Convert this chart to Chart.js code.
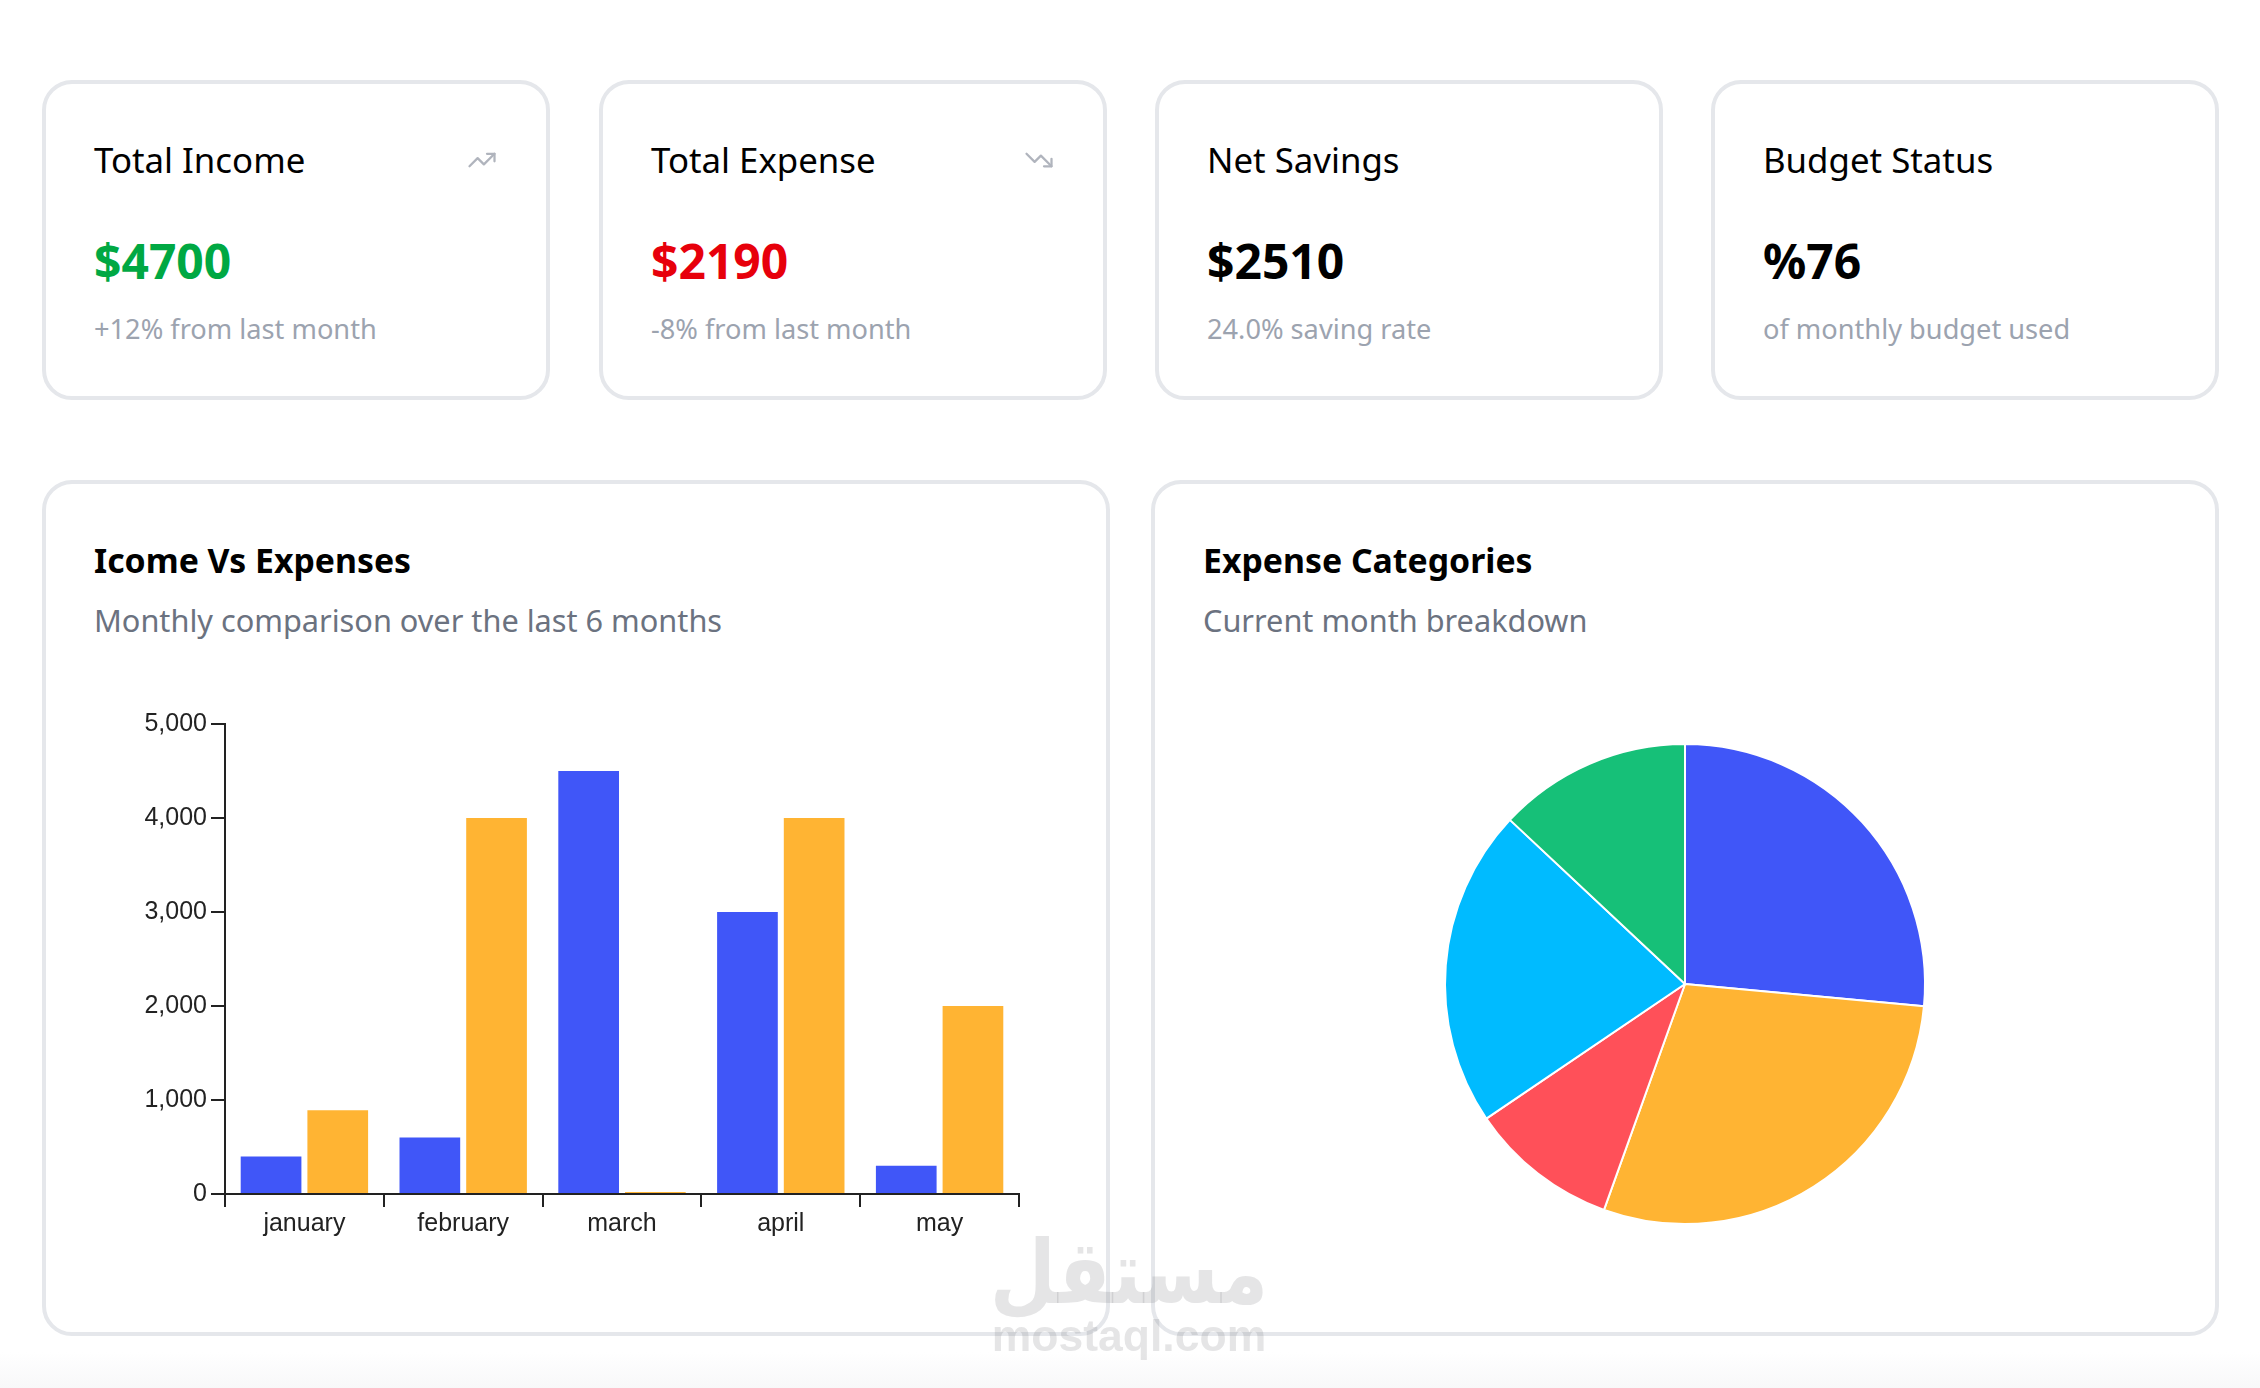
<!DOCTYPE html>
<html>
<head>
<meta charset="utf-8">
<title>Dashboard</title>
<script src="https://cdn.jsdelivr.net/npm/chart.js@4"></script>
<style>
  html, body { margin: 0; padding: 0; background: #fff; }
  body { position: relative; width: 2260px; height: 1388px; overflow: hidden; font-family: "Noto Sans", sans-serif; }
  .fade { position: absolute; left: 0; right: 0; top: 1352px; height: 36px; background: linear-gradient(#fff, #f8f8f9); }
  .card { position: absolute; box-sizing: border-box; background: #fff; border: 4px solid #e5e7eb; border-radius: 30px; }
  .stat { top: 80px; width: 508px; height: 320px; }
  .big { top: 480px; height: 856px; }
  .txt { position: absolute; white-space: nowrap; line-height: 1; }
  .label { left: 48px; top: 59px; font-size: 34.8px; color: #000; }
  .value { left: 48px; top: 153px; font-size: 48px; font-weight: 700; color: #000; }
  .note { left: 48px; top: 231px; font-size: 27.2px; color: #9ca3af; }
  .head { left: 48px; top: 60px; font-size: 33.8px; font-weight: 700; color: #000; }
  .desc { left: 48px; top: 121px; font-size: 30.7px; color: #6b7280; }
  .icon { position: absolute; right: 49px; top: 61px; width: 30px; height: 30px; fill: none; stroke: #b0b4bd; stroke-width: 1.8; stroke-linecap: round; stroke-linejoin: round; }
  #barBox { position: absolute; left: 120px; top: 701px; width: 920px; height: 560px; }
  #pieBox { position: absolute; left: 1435px; top: 734px; width: 500px; height: 500px; }
  .mark { position: absolute; color: rgba(110,110,115,.18); white-space: nowrap; line-height: 1; text-align: center; width: 500px; left: 879px; }
  .mark.ar { top: 1204px; font-family: "DejaVu Sans", sans-serif; font-weight: 700; font-size: 112px; transform: scale(.68, .79); transform-origin: 50% 100%; }
  .mark.en { top: 1314px; font-family: "Liberation Sans", sans-serif; font-weight: 700; font-size: 44.5px; }
</style>
</head>
<body>
<div class="fade"></div>

<div class="card stat" style="left:42px">
  <div class="txt label">Total Income</div>
  <svg class="icon" viewBox="0 0 24 24"><polyline points="22 7 13.5 15.5 8.5 10.5 2 17"/><polyline points="16 7 22 7 22 13"/></svg>
  <div class="txt value" style="color:#00a843">$4700</div>
  <div class="txt note">+12% from last month</div>
</div>
<div class="card stat" style="left:599px">
  <div class="txt label">Total Expense</div>
  <svg class="icon" viewBox="0 0 24 24"><polyline points="22 17 13.5 8.5 8.5 13.5 2 7"/><polyline points="16 17 22 17 22 11"/></svg>
  <div class="txt value" style="color:#e7000b">$2190</div>
  <div class="txt note">-8% from last month</div>
</div>
<div class="card stat" style="left:1155px">
  <div class="txt label">Net Savings</div>
  <div class="txt value">$2510</div>
  <div class="txt note">24.0% saving rate</div>
</div>
<div class="card stat" style="left:1711px">
  <div class="txt label">Budget Status</div>
  <div class="txt value">%76</div>
  <div class="txt note">of monthly budget used</div>
</div>

<div class="card big" style="left:42px;width:1068px">
  <div class="txt head">Icome Vs Expenses</div>
  <div class="txt desc">Monthly comparison over the last 6 months</div>
</div>
<div class="card big" style="left:1151px;width:1068px">
  <div class="txt head">Expense Categories</div>
  <div class="txt desc">Current month breakdown</div>
</div>

<div id="barBox"><canvas id="barChart"></canvas></div>
<div id="pieBox"><canvas id="pieChart"></canvas></div>

<div class="mark ar" dir="rtl">مستقل</div>
<div class="mark en">mostaql.com</div>

<script>
// --- DATA ---
const months = ['january', 'february', 'march', 'april', 'may'];
const incomeValues = [400, 600, 4500, 3000, 300];
const expenseValues = [890, 4000, 20, 4000, 2000];
const yTicks = [0, 1000, 2000, 3000, 4000, 5000];

const pieCategories = ['Blue', 'Orange', 'Red', 'Cyan', 'Green'];
const pieValues = [580, 635, 220, 470, 285];
const pieColors = ['#4056f8', '#ffb433', '#ff5059', '#00bbff', '#16c078'];

const axisColor = '#222';
const tickFont = { family: '"Liberation Sans", sans-serif', size: 25 };

// --- BAR CHART ---
new Chart(document.getElementById('barChart'), {
    type: 'bar',
    data: {
        labels: months,
        datasets: [
            { label: 'income', data: incomeValues, backgroundColor: '#4056f8' },
            { label: 'expense', data: expenseValues, backgroundColor: '#ffb433' }
        ]
    },
    options: {
        responsive: true,
        maintainAspectRatio: false,
        animation: false,
        categoryPercentage: 0.84,
        barPercentage: 0.91,
        layout: { padding: { top: 23, right: 21, left: 0, bottom: 0 } },
        plugins: { legend: { display: false }, tooltip: { enabled: false } },
        scales: {
            x: {
                z: 1,
                grid: { drawOnChartArea: false, color: axisColor, lineWidth: 2, tickLength: 13 },
                border: { color: axisColor, width: 2 },
                ticks: { color: axisColor, font: tickFont, padding: 2, maxRotation: 0 },
                afterFit: s => { s.height = 67; }
            },
            y: {
                min: 0,
                max: 5000,
                afterBuildTicks: s => { s.ticks = yTicks.map(v => ({ value: v })); },
                grid: { drawOnChartArea: false, color: axisColor, lineWidth: 2, tickLength: 14 },
                border: { color: axisColor, width: 2 },
                ticks: { color: axisColor, font: tickFont, padding: 4, callback: v => v.toLocaleString('en-US') },
                afterFit: s => { s.width = 105; }
            }
        }
    }
});

// --- PIE CHART ---
new Chart(document.getElementById('pieChart'), {
    type: 'pie',
    data: {
        labels: pieCategories,
        datasets: [{ data: pieValues, backgroundColor: pieColors, borderColor: '#fff', borderWidth: 2 }]
    },
    options: {
        responsive: true,
        maintainAspectRatio: false,
        animation: false,
        layout: { padding: 9 },
        plugins: { legend: { display: false }, tooltip: { enabled: false } }
    }
});
</script>
</body>
</html>
